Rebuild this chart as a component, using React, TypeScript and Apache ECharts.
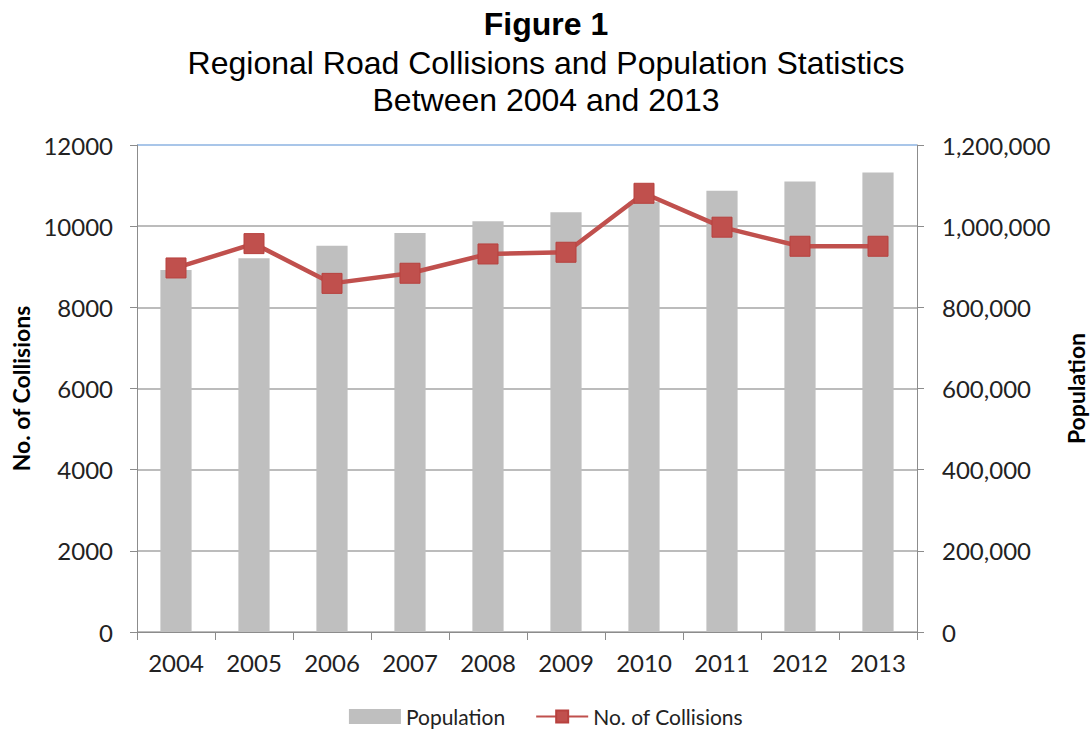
import React, { useEffect, useRef } from "react";
import * as echarts from "echarts";

const years = ["2004", "2005", "2006", "2007", "2008", "2009", "2010", "2011", "2012", "2013"];
const population = [892000, 921000, 952000, 983000, 1012000, 1034000, 1060000, 1087000, 1110000, 1132000];
const collisions = [8970, 9570, 8590, 8840, 9315, 9357, 10810, 9975, 9505, 9505];

const FONT = "Lato";

export default function App() {
  const ref = useRef<HTMLDivElement>(null);
  useEffect(() => {
    document.body.style.margin = "0";
    const chart = echarts.init(ref.current!, null, { renderer: "svg" });
    const grid = "#A6A6A6";
    chart.setOption({
      animation: false,
      backgroundColor: "#ffffff",
      title: [
        { text: "Figure 1", left: "center", top: 3, textStyle: { fontFamily: "Liberation Sans", fontSize: 32, fontWeight: "bold", color: "#000" } },
        { text: "Regional Road Collisions and Population Statistics", left: "center", top: 42, textStyle: { fontFamily: "Liberation Sans", fontSize: 32, fontWeight: "normal", color: "#000" } },
        { text: "Between 2004 and 2013", left: "center", top: 79, textStyle: { fontFamily: "Liberation Sans", fontSize: 32, fontWeight: "normal", color: "#000" } },
      ],
      legend: {
        top: 706,
        left: "center",
        padding: 0,
        itemWidth: 52,
        itemHeight: 15,
        itemGap: 30,
        textStyle: { fontFamily: FONT, fontSize: 21, color: "#222" },
        data: [
          { name: "Population", icon: "rect" },
          { name: "No. of Collisions" },
        ],
      },
      grid: { left: 137, right: 175, top: 145, bottom: 99, outerBoundsMode: "none", containLabel: false },
      xAxis: {
        type: "category",
        data: years,
        axisLine: { lineStyle: { color: "#8C8C8C", width: 1 } },
        axisTick: { show: true, length: 8, lineStyle: { color: "#8C8C8C" } },
        axisLabel: { fontFamily: FONT, fontSize: 24, color: "#222", margin: 18 },
      },
      yAxis: [
        {
          type: "value",
          min: 0,
          max: 12000,
          interval: 2000,
          name: "No. of Collisions",
          nameLocation: "middle",
          nameGap: 104,
          nameRotate: 90,
          nameTextStyle: { fontFamily: FONT, fontSize: 23, fontWeight: "bold", color: "#000" },
          axisLine: { show: true, lineStyle: { color: "#8C8C8C" } },
          axisTick: { show: true, length: 7, lineStyle: { color: "#8C8C8C" } },
          axisLabel: { fontFamily: FONT, fontSize: 24, color: "#222", margin: 24, formatter: (v: number) => String(v) },
          splitLine: { show: true, lineStyle: { color: [grid, grid, grid, grid, grid, grid, "#8DB3E2"], width: 1.5 } },
        },
        {
          type: "value",
          min: 0,
          max: 1200000,
          interval: 200000,
          position: "right",
          name: "Population",
          nameLocation: "middle",
          nameGap: 147,
          nameRotate: 90,
          nameTextStyle: { fontFamily: FONT, fontSize: 23, fontWeight: "bold", color: "#000" },
          axisLine: { show: true, lineStyle: { color: "#8C8C8C" } },
          axisTick: { show: true, length: 7, lineStyle: { color: "#8C8C8C" } },
          axisLabel: {
            fontFamily: FONT,
            fontSize: 24,
            color: "#222",
            margin: 25,
            formatter: (v: number) => v.toLocaleString("en-US"),
          },
          splitLine: { show: false },
        },
      ],
      series: [
        {
          name: "Population",
          type: "bar",
          yAxisIndex: 1,
          data: population,
          barWidth: "40%",
          itemStyle: { color: "#BFBFBF" },
        },
        {
          name: "No. of Collisions",
          type: "line",
          yAxisIndex: 0,
          data: collisions,
          symbol: "rect",
          symbolSize: 20,
          lineStyle: { color: "#C0504D", width: 4.5 },
          itemStyle: { color: "#C0504D", borderColor: "#B7413E", borderWidth: 1 },
        },
      ],
    });
    return () => chart.dispose();
  }, []);
  return <div ref={ref} style={{ width: 1092, height: 731 }} />;
}
